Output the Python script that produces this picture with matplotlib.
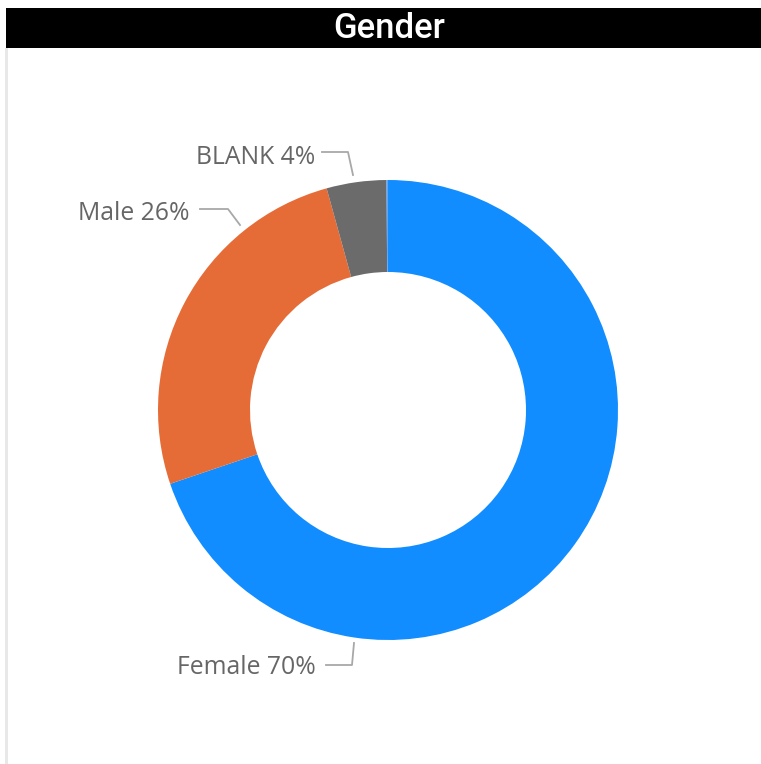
import matplotlib
matplotlib.use("Agg")
import matplotlib.pyplot as plt
from matplotlib.patches import Rectangle

# slice data, clockwise from 12 o'clock
categories = ["Female", "Male", "BLANK", "Other"]
shares = [69.8, 25.9, 4.2, 0.1]
pct_labels = ["70%", "26%", "4%", ""]
colors = ["#118dff", "#e66c37", "#6b6b6b", "#5aa9ff"]

W, H = 761, 764
fig = plt.figure(figsize=(W / 100, H / 100), dpi=100)
ax = fig.add_axes([0, 0, 1, 1])

# frame and title bar
ax.add_patch(Rectangle((5, 0), 2.5, H - 48, color="#e8e8e8", lw=0))
ax.add_patch(Rectangle((6, H - 48), W - 6, 40, color="black", lw=0))
ax.text(389, H - 29, "Gender", color="white", fontsize=25, family="Roboto",
        fontweight="medium", ha="center", va="center")

cx, cy, r = 388, H - 410, 230
ax.pie(shares, colors=colors, startangle=90, counterclock=False,
       center=(cx, cy), radius=r, frame=True,
       wedgeprops=dict(width=0.4 * r, linewidth=0))
ax.set_xlim(0, W)
ax.set_ylim(0, H)
ax.set_aspect("equal")
ax.axis("off")

# labels with leader lines (positions in pixels from top)
label_pos = {
    "Female": ((316, 668), [(326, 665), (352, 665), (354, 643)]),
    "Male": ((190, 214), [(200, 209), (228, 209), (240, 225)]),
    "BLANK": ((315, 158), [(322, 152), (348, 152), (353, 175)]),
}
tcolor = "#666666"
for cat, pct in zip(categories, pct_labels):
    if cat not in label_pos:
        continue
    (tx, ty), pts = label_pos[cat]
    ax.text(tx, H - ty, f"{cat} {pct}", color=tcolor, fontsize=17.8,
            family="Open Sans", ha="right", va="center")
    ax.plot([p[0] for p in pts], [H - p[1] for p in pts], color="#a8a8a8", lw=1.3)

fig.savefig("out.png", dpi=100, facecolor="white")
